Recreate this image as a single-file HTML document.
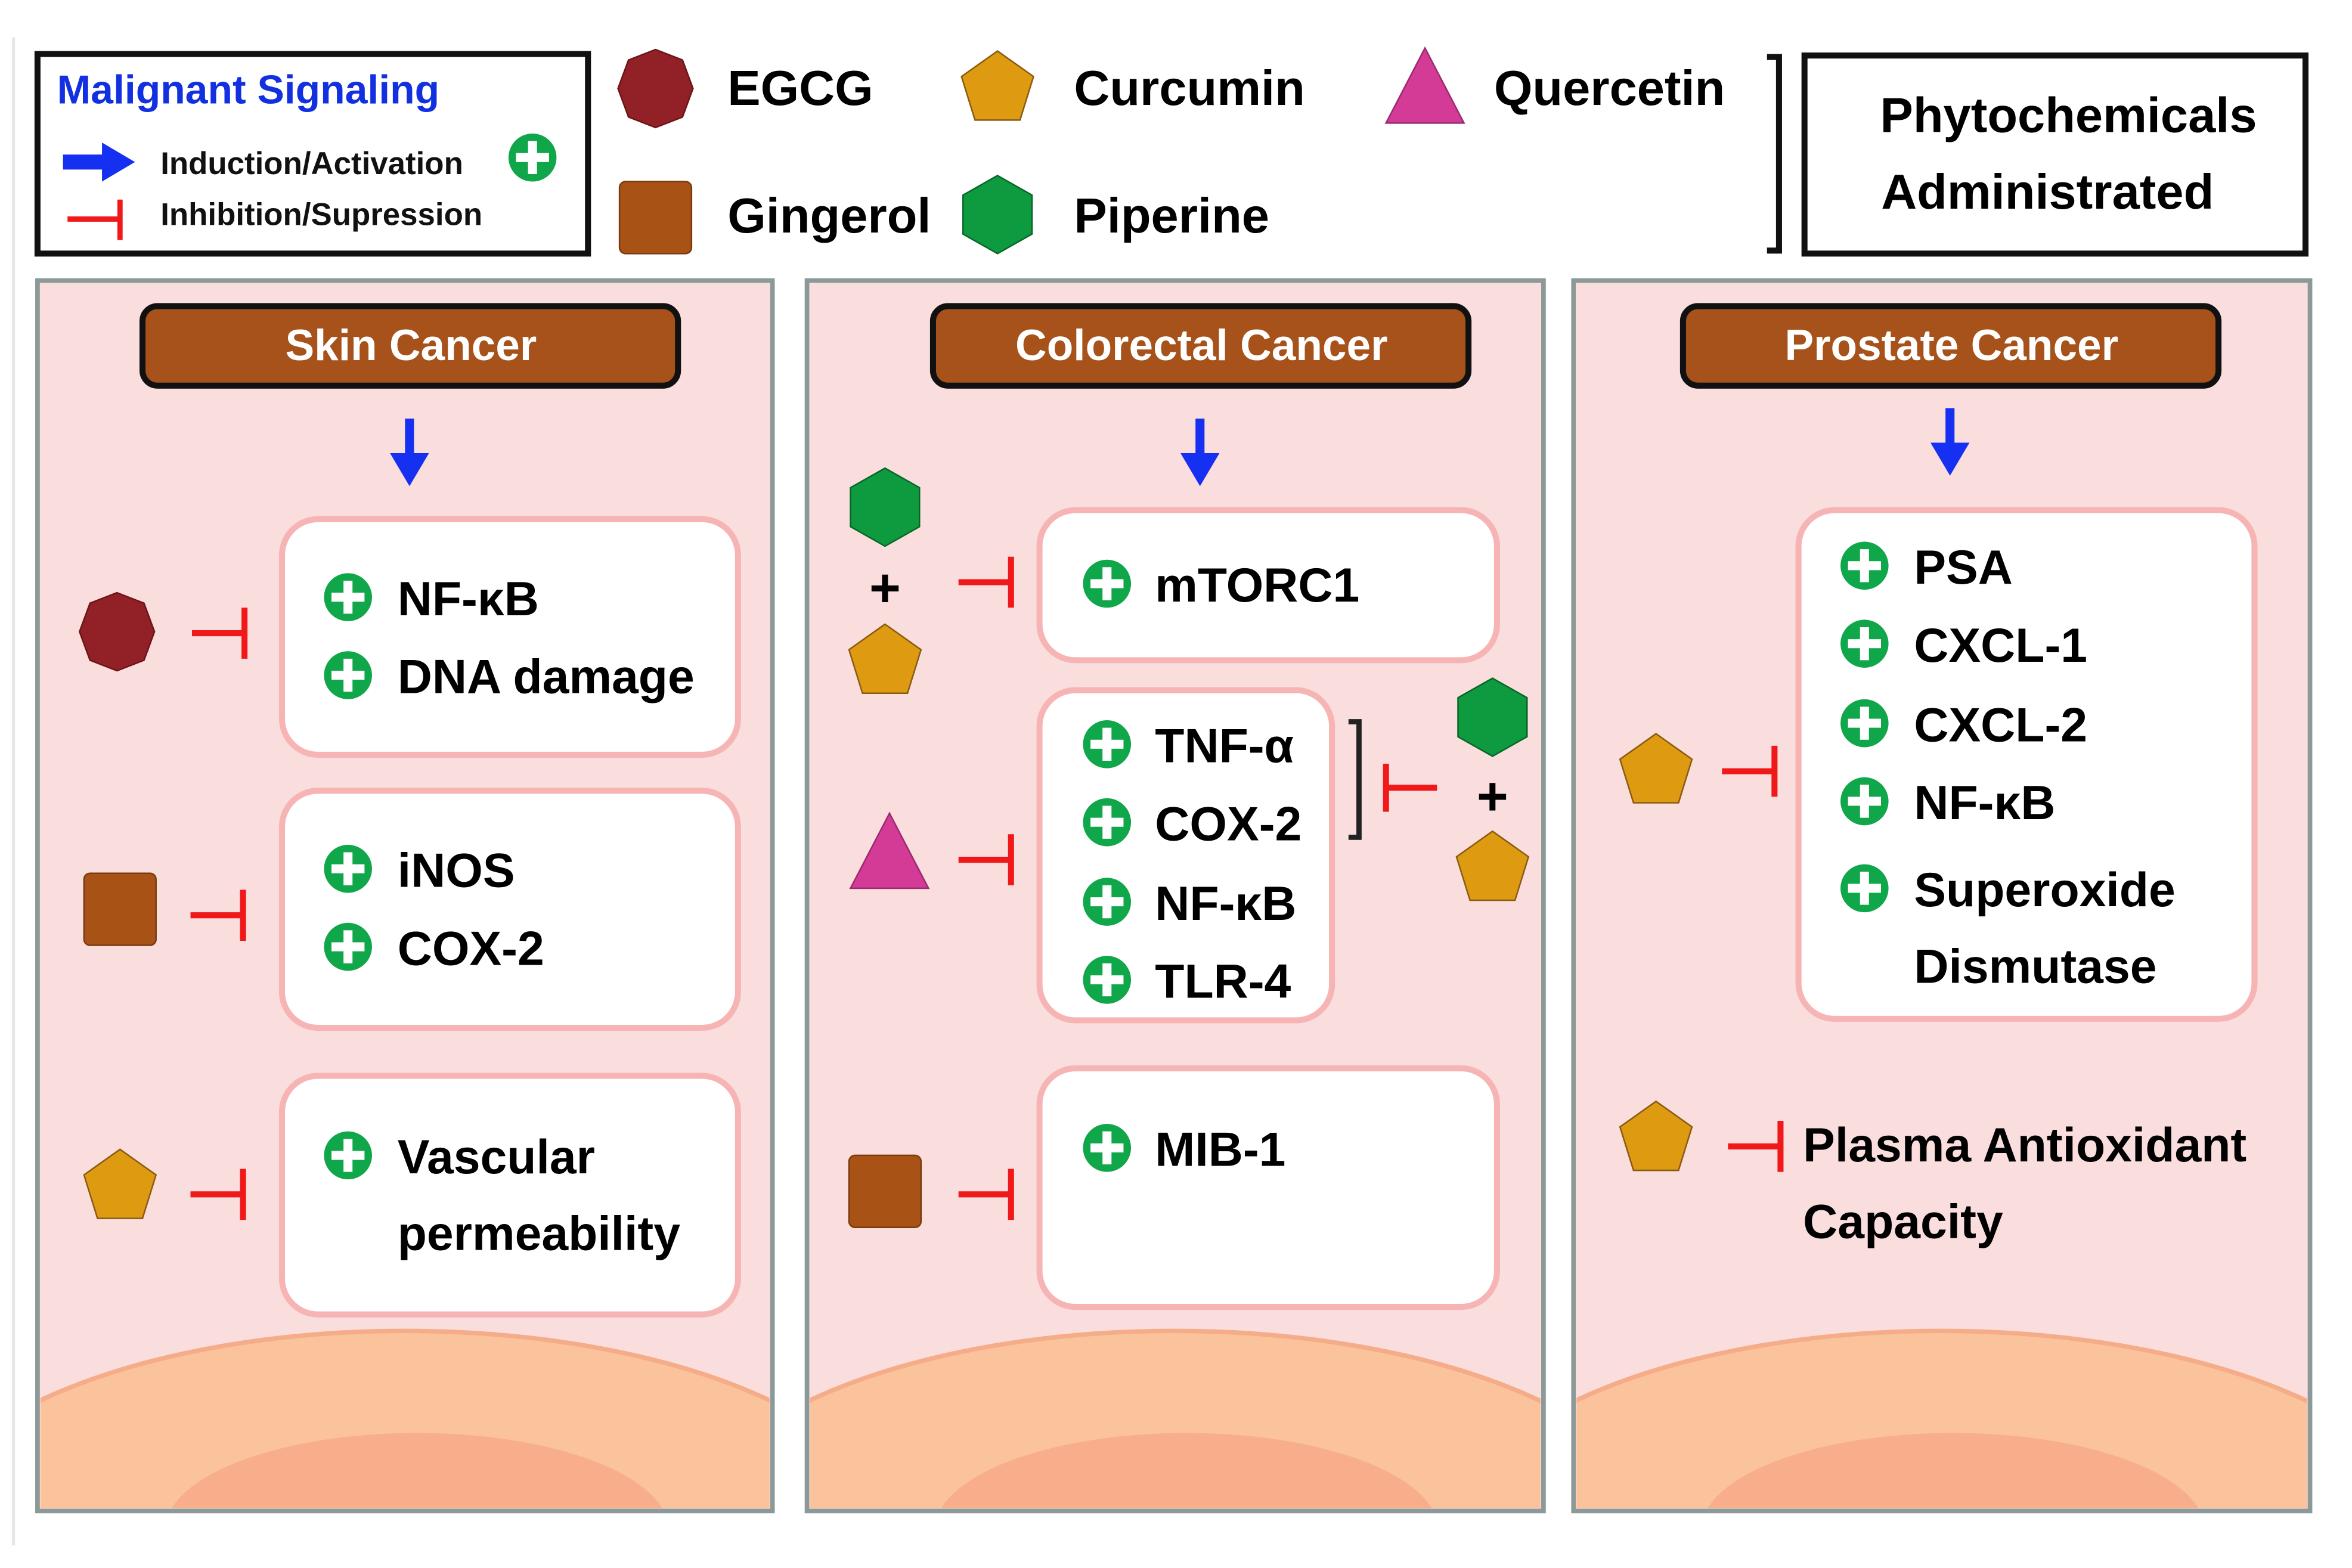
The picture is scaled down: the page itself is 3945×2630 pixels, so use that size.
<!DOCTYPE html>
<html><head><meta charset="utf-8"><style>
html,body{margin:0;padding:0;background:#fff;overflow:hidden;width:3945px;height:2630px;}
svg{display:block;}
text{font-family:"Liberation Sans Narrow","Liberation Sans",sans-serif;font-weight:bold;}
</style></head><body>
<svg width="3945" height="2630" viewBox="0 0 1568 1045" preserveAspectRatio="none" xmlns="http://www.w3.org/2000/svg">
<defs>
<g id="oct"><polygon points="0,-26 18,-19 25,0 18,19 0,26 -18,19 -25,0 -18,-19" fill="#912126" stroke="#6e1418" stroke-width="1"/></g>
<g id="pent"><polygon points="0,-24 24,-7 15,22 -15,22 -24,-7" fill="#de9b12" stroke="#8a5a10" stroke-width="1"/></g>
<g id="hex"><polygon points="0,-26 23,-13 23,13 0,26 -23,13 -23,-13" fill="#0e9a3e" stroke="#086628" stroke-width="1"/></g>
<g id="tri"><polygon points="0,-26 26,24 -26,24" fill="#d43b96" stroke="#9a2a70" stroke-width="1"/></g>
<g id="sq"><rect x="-24" y="-24" width="48" height="48" rx="4" fill="#a85216" stroke="#7a3a10" stroke-width="1"/></g>
<g id="plus"><circle r="16" fill="#10a64a"/><rect x="-3" y="-11" width="6" height="22" fill="#fff"/><rect x="-11" y="-3" width="22" height="6" fill="#fff"/></g>
<g id="inh"><line x1="0" y1="0" x2="35" y2="0" stroke="#f01818" stroke-width="4"/><line x1="35" y1="-17" x2="35" y2="17" stroke="#f01818" stroke-width="4"/></g>
<g id="arr"><rect x="-3" y="-25" width="6" height="26" fill="#1530f0"/><polygon points="-13,-2 13,-2 0,20" fill="#1530f0"/></g>
<clipPath id="c1"><rect x="27" y="189" width="486" height="816"/></clipPath>
<clipPath id="c2"><rect x="540" y="189" width="487" height="816"/></clipPath>
<clipPath id="c3"><rect x="1051" y="189" width="487" height="816"/></clipPath>
</defs>
<line x1="9" y1="25" x2="9" y2="1030" stroke="#e6e6e6" stroke-width="2"/>

<rect x="25" y="36" width="367" height="133" fill="#fff" stroke="#111" stroke-width="4"/>
<text x="38" y="69" font-size="27" fill="#1230e0">Malignant Signaling</text>
<polygon points="42,103 68,103 68,95 90,108 68,121 68,113 42,113" fill="#1530f0"/>
<text x="107" y="116" font-size="21" fill="#111">Induction/Activation</text>
<use href="#plus" x="355" y="105"/>
<line x1="45" y1="146" x2="80" y2="146" stroke="#f01818" stroke-width="3.5"/>
<line x1="80" y1="133" x2="80" y2="160" stroke="#f01818" stroke-width="3.5"/>
<text x="107" y="150" font-size="21" fill="#111">Inhibition/Supression</text>

<use href="#oct" x="437" y="59"/>
<text x="485" y="70" font-size="33" fill="#000">EGCG</text>
<use href="#pent" x="665" y="58"/>
<text x="716" y="70" font-size="33" fill="#000">Curcumin</text>
<use href="#tri" x="950" y="58"/>
<text x="996" y="70" font-size="33" fill="#000">Quercetin</text>
<use href="#sq" x="437" y="145"/>
<text x="485" y="155" font-size="33" fill="#000">Gingerol</text>
<use href="#hex" x="665" y="143"/>
<text x="716" y="155" font-size="33" fill="#000">Piperine</text>
<polyline points="1178,38 1186,38 1186,167 1178,167" fill="none" stroke="#111" stroke-width="4"/>
<rect x="1203" y="37" width="334" height="132" fill="#fff" stroke="#111" stroke-width="4"/>
<text x="1379" y="88" font-size="33" fill="#000" text-anchor="middle">Phytochemicals</text>
<text x="1365" y="139" font-size="33" fill="#000" text-anchor="middle">Administrated</text>

<g>
<rect x="25" y="187" width="490" height="820" fill="#fadddd" stroke="#8c9999" stroke-width="3"/>
<rect x="538" y="187" width="491" height="820" fill="#fadddd" stroke="#8c9999" stroke-width="3"/>
<rect x="1049" y="187" width="491" height="820" fill="#fadddd" stroke="#8c9999" stroke-width="3"/>
<g clip-path="url(#c1)"><ellipse cx="270" cy="1030" rx="330" ry="143" fill="#fbc39c" stroke="#f5ac88" stroke-width="3"/><ellipse cx="278" cy="1020" rx="168" ry="65" fill="#f8ae8a"/></g>
<g clip-path="url(#c2)"><ellipse cx="783" cy="1030" rx="330" ry="143" fill="#fbc39c" stroke="#f5ac88" stroke-width="3"/><ellipse cx="791" cy="1020" rx="168" ry="65" fill="#f8ae8a"/></g>
<g clip-path="url(#c3)"><ellipse cx="1294" cy="1030" rx="330" ry="143" fill="#fbc39c" stroke="#f5ac88" stroke-width="3"/><ellipse cx="1302" cy="1020" rx="168" ry="65" fill="#f8ae8a"/></g>
<rect x="25" y="187" width="490" height="820" fill="none" stroke="#8c9999" stroke-width="3"/>
<rect x="538" y="187" width="491" height="820" fill="none" stroke="#8c9999" stroke-width="3"/>
<rect x="1049" y="187" width="491" height="820" fill="none" stroke="#8c9999" stroke-width="3"/>
</g>

<rect x="95" y="204" width="357" height="53" rx="10" fill="#a6521a" stroke="#111" stroke-width="4"/>
<text x="274" y="240" font-size="29" fill="#fff" text-anchor="middle">Skin Cancer</text>
<rect x="622" y="204" width="357" height="53" rx="10" fill="#a6521a" stroke="#111" stroke-width="4"/>
<text x="801" y="240" font-size="29" fill="#fff" text-anchor="middle">Colorectal Cancer</text>
<rect x="1122" y="204" width="357" height="53" rx="10" fill="#a6521a" stroke="#111" stroke-width="4"/>
<text x="1301" y="240" font-size="29" fill="#fff" text-anchor="middle">Prostate Cancer</text>
<use href="#arr" x="273" y="304"/>
<use href="#arr" x="800" y="304"/>
<use href="#arr" x="1300" y="297"/>

<g fill="#fff" stroke="#f7b4b4" stroke-width="4">
<rect x="188" y="346" width="304" height="157" rx="24"/>
<rect x="188" y="527" width="304" height="158" rx="24"/>
<rect x="188" y="717" width="304" height="159" rx="24"/>
<rect x="693" y="340" width="305" height="100" rx="24"/>
<rect x="693" y="460" width="195" height="220" rx="24"/>
<rect x="693" y="712" width="305" height="159" rx="24"/>
<rect x="1199" y="340" width="304" height="339" rx="24"/>
</g>
<g font-size="32" fill="#000">
<use href="#plus" x="232" y="398"/><text x="265" y="410">NF-κB</text>
<use href="#plus" x="232" y="450"/><text x="265" y="462">DNA damage</text>
<use href="#plus" x="232" y="579"/><text x="265" y="591">iNOS</text>
<use href="#plus" x="232" y="631"/><text x="265" y="643">COX-2</text>
<use href="#plus" x="232" y="770"/><text x="265" y="782">Vascular</text>
<text x="265" y="833">permeability</text>

<use href="#plus" x="738" y="389"/><text x="770" y="401">mTORC1</text>
<use href="#plus" x="738" y="496"/><text x="770" y="508">TNF-α</text>
<use href="#plus" x="738" y="548"/><text x="770" y="560">COX-2</text>
<use href="#plus" x="738" y="601"/><text x="770" y="613">NF-κB</text>
<use href="#plus" x="738" y="653"/><text x="770" y="665">TLR-4</text>
<use href="#plus" x="738" y="765"/><text x="770" y="777">MIB-1</text>

<use href="#plus" x="1243" y="377"/><text x="1276" y="389">PSA</text>
<use href="#plus" x="1243" y="429"/><text x="1276" y="441">CXCL-1</text>
<use href="#plus" x="1243" y="482"/><text x="1276" y="494">CXCL-2</text>
<use href="#plus" x="1243" y="534"/><text x="1276" y="546">NF-κB</text>
<use href="#plus" x="1243" y="592"/><text x="1276" y="604">Superoxide</text>
<text x="1276" y="655">Dismutase</text>
<text x="1202" y="774">Plasma Antioxidant</text>
<text x="1202" y="825">Capacity</text>
</g>

<use href="#oct" x="78" y="421"/><use href="#inh" x="128" y="422"/>
<use href="#sq" x="80" y="606"/><use href="#inh" x="127" y="610"/>
<use href="#pent" x="80" y="790"/><use href="#inh" x="127" y="796"/>

<use href="#hex" x="590" y="338"/>
<text x="590" y="404" font-size="36" fill="#000" text-anchor="middle">+</text>
<use href="#pent" x="590" y="440"/>
<use href="#inh" x="639" y="388"/>
<use href="#tri" x="593" y="568"/><use href="#inh" x="639" y="573"/>
<use href="#sq" x="590" y="794"/><use href="#inh" x="639" y="796"/>
<polyline points="899,481 906,481 906,558 899,558" fill="none" stroke="#222" stroke-width="3.5"/>
<line x1="924" y1="525" x2="958" y2="525" stroke="#f01818" stroke-width="4"/>
<line x1="924" y1="509" x2="924" y2="541" stroke="#f01818" stroke-width="4"/>
<use href="#hex" x="995" y="478"/>
<text x="995" y="543" font-size="36" fill="#000" text-anchor="middle">+</text>
<use href="#pent" x="995" y="578"/>

<use href="#pent" x="1104" y="513"/><use href="#inh" x="1148" y="514"/>
<use href="#pent" x="1104" y="758"/><use href="#inh" x="1152" y="764"/>
</svg>
</body></html>
